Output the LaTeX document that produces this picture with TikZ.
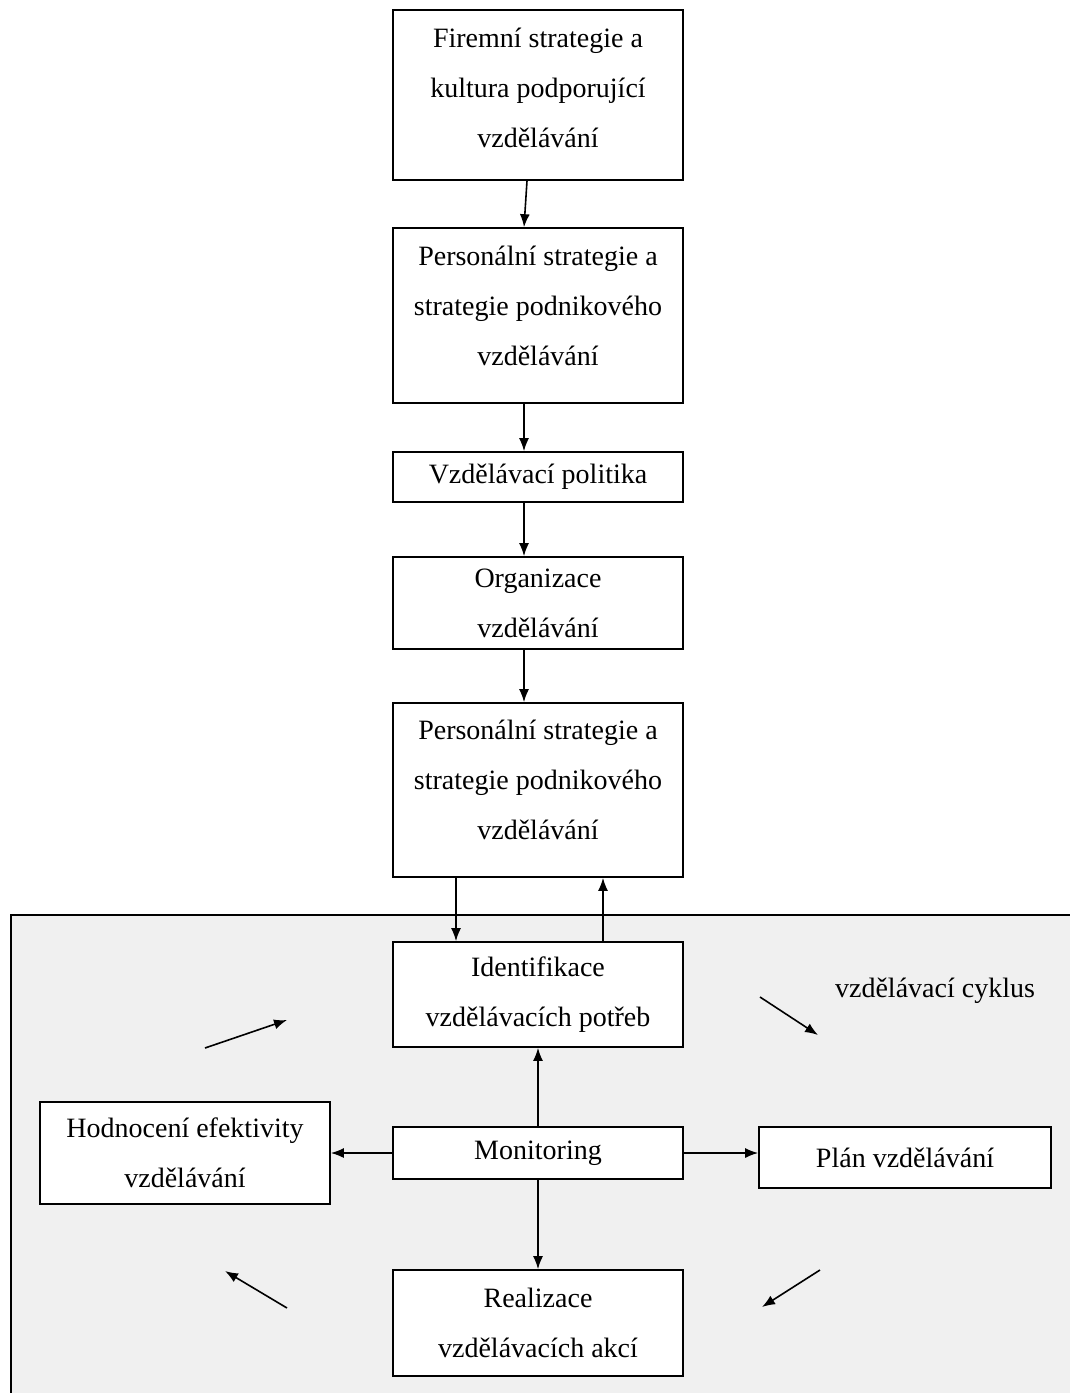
\documentclass[tikz,border=0pt]{standalone}
\usepackage{fontspec}
\setmainfont{Liberation Serif}
\usetikzlibrary{arrows.meta}

\definecolor{cyklusbg}{RGB}{240,240,240}

\tikzset{
  krok/.style={draw, line width=1.6pt, fill=white, minimum width=290pt,
    align=center, inner sep=0pt, font=\fontsize{28}{50}\selectfont},
  sipka/.style={-{Latex[length=13pt,width=10pt]}, line width=1.6pt}
}

\begin{document}
\begin{tikzpicture}[x=1pt,y=-1pt]
\useasboundingbox (0,0) rectangle (1070,1393);
% vzdelavaci cyklus
\fill[cyklusbg] (11,915) rectangle (1070,1393);
\draw[line width=1.6pt] (11,1393) -- (11,915) -- (1070,915);
\node[font=\fontsize{28}{50}\selectfont] (cyklus) at (935,991) {vzdělávací cyklus};

\node[krok, minimum height=170pt] (firma) at (538,95) {Firemní strategie a\\kultura podporující\\vzdělávání\\[-36pt]};
\node[krok, minimum height=175pt] (pers1) at (538,315.5) {Personální strategie a\\strategie podnikového\\vzdělávání\\[-30pt]};
\node[krok, minimum height=50pt] (politika) at (538,477) {Vzdělávací politika};
\node[krok, minimum height=92pt] (org) at (538,603) {Organizace\\vzdělávání};
\node[krok, minimum height=174pt] (pers2) at (538,790) {Personální strategie a\\strategie podnikového\\vzdělávání\\[-30pt]};
\node[krok, minimum height=105pt] (ident) at (538,994.5) {Identifikace\\vzdělávacích potřeb};
\node[krok, minimum height=102pt] (hodn) at (185,1153) {Hodnocení efektivity\\vzdělávání};
\node[krok, minimum height=52pt] (monit) at (538,1153) {Monitoring};
\node[krok, minimum width=292pt, minimum height=61pt] (plan) at (905,1157.5) {Plán vzdělávání};
\node[krok, minimum height=106pt] (real) at (538,1323) {Realizace\\vzdělávacích akcí};

\draw[sipka] ([xshift=-11pt]firma.south) -- ([xshift=-14pt]pers1.north);
\draw[sipka] ([xshift=-14pt]pers1.south) -- ([xshift=-14pt]politika.north);
\draw[sipka] ([xshift=-14pt]politika.south) -- ([xshift=-14pt]org.north);
\draw[sipka] ([xshift=-14pt]org.south) -- ([xshift=-14pt]pers2.north);
\draw[sipka] ([xshift=-82pt]pers2.south) -- ([xshift=-82pt]ident.north);
\draw[sipka] ([xshift=65pt]ident.north) -- ([xshift=65pt]pers2.south);
\draw[sipka] (monit) -- (ident);
\draw[sipka] (monit) -- (hodn);
\draw[sipka] (monit) -- (plan.west |- monit);
\draw[sipka] (monit) -- (real);

% sipky cyklu
\coordinate (c1a) at (205,1048);
\coordinate (c1b) at (287,1020);
\coordinate (c2a) at (760,997);
\coordinate (c2b) at (818,1035);
\coordinate (c3a) at (820,1270);
\coordinate (c3b) at (762,1307);
\coordinate (c4a) at (287,1308);
\coordinate (c4b) at (225,1271);
\draw[sipka] (c1a) -- (c1b);
\draw[sipka] (c2a) -- (c2b);
\draw[sipka] (c3a) -- (c3b);
\draw[sipka] (c4a) -- (c4b);
\end{tikzpicture}
\end{document}
